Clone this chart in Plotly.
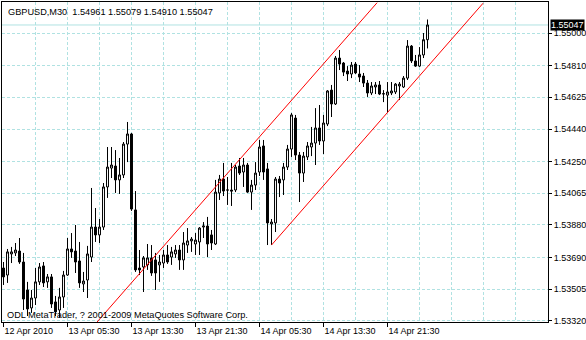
import plotly.graph_objects as go

symbol = "GBPUSD,M30"
copyright_text = "ODL MetaTrader, ? 2001-2009 MetaQuotes Software Corp."

opens = [1.53629, 1.53588, 1.53711, 1.53717, 1.53728, 1.53664, 1.53501, 1.53396, 1.53454, 1.53548,
         1.53641, 1.53548, 1.53577, 1.53431, 1.53384, 1.53460, 1.53588, 1.53740, 1.53728, 1.53670,
         1.53536, 1.53559, 1.53693, 1.53868, 1.53822, 1.53868, 1.54102, 1.54212, 1.54224, 1.54143,
         1.54172, 1.54352, 1.54411, 1.53968, 1.53629, 1.53635, 1.53647, 1.53688, 1.53676, 1.53647,
         1.53658, 1.53705, 1.53693, 1.53711, 1.53734, 1.53676, 1.53763, 1.53787, 1.53769, 1.53781,
         1.53868, 1.53874, 1.53822, 1.53769, 1.54067, 1.54148, 1.54084, 1.54084, 1.54084, 1.54224,
         1.54189, 1.54230, 1.54072, 1.54113, 1.54189, 1.54341, 1.54207, 1.53886, 1.53892, 1.54148,
         1.54143, 1.54218, 1.54323, 1.54504, 1.54288, 1.54183, 1.54277, 1.54335, 1.54358, 1.54446,
         1.54370, 1.54469, 1.54667, 1.54586, 1.54854, 1.54825, 1.54778, 1.54761, 1.54819, 1.54761,
         1.54749, 1.54708, 1.54650, 1.54685, 1.54697, 1.54644, 1.54638, 1.54650, 1.54656, 1.54691,
         1.54685, 1.54737, 1.54924, 1.54837, 1.54807, 1.54872, 1.54961]
highs = [1.53664, 1.53740, 1.53752, 1.53775, 1.53804, 1.53717, 1.53548, 1.53501, 1.53629, 1.53658,
         1.53664, 1.53594, 1.53594, 1.53466, 1.53513, 1.53612, 1.53804, 1.53833, 1.53880, 1.53781,
         1.53606, 1.53758, 1.54096, 1.53979, 1.53915, 1.54125, 1.54335, 1.54335, 1.54317, 1.54271,
         1.54364, 1.54481, 1.54417, 1.54078, 1.53734, 1.53699, 1.53769, 1.53763, 1.53717, 1.53705,
         1.53734, 1.53763, 1.53752, 1.53763, 1.53763, 1.53839, 1.53862, 1.53810, 1.53833, 1.53868,
         1.53897, 1.53927, 1.53851, 1.54143, 1.54172, 1.54242, 1.54160, 1.54242, 1.54230, 1.54271,
         1.54271, 1.54242, 1.54143, 1.54247, 1.54376, 1.54376, 1.54242, 1.53915, 1.54160, 1.54166,
         1.54242, 1.54347, 1.54533, 1.54522, 1.54306, 1.54306, 1.54364, 1.54452, 1.54562, 1.54580,
         1.54522, 1.54667, 1.54697, 1.54866, 1.54901, 1.54831, 1.54807, 1.54831, 1.54831, 1.54813,
         1.54767, 1.54726, 1.54714, 1.54714, 1.54720, 1.54667, 1.54714, 1.54714, 1.54708, 1.54714,
         1.54749, 1.54959, 1.54930, 1.54872, 1.54918, 1.55000, 1.55079]
lows = [1.53530, 1.53542, 1.53658, 1.53699, 1.53653, 1.53384, 1.53349, 1.53367, 1.53413, 1.53530,
        1.53518, 1.53513, 1.53396, 1.53349, 1.53338, 1.53396, 1.53583, 1.53688, 1.53600, 1.53513,
        1.53489, 1.53454, 1.53664, 1.53781, 1.53775, 1.53851, 1.54038, 1.54154, 1.54067, 1.54061,
        1.54154, 1.54247, 1.53962, 1.53606, 1.53588, 1.53489, 1.53618, 1.53583, 1.53501, 1.53548,
        1.53629, 1.53653, 1.53647, 1.53688, 1.53618, 1.53618, 1.53717, 1.53723, 1.53705, 1.53705,
        1.53804, 1.53693, 1.53734, 1.53763, 1.54026, 1.54049, 1.53997, 1.53991, 1.54072, 1.54172,
        1.54102, 1.54067, 1.53968, 1.54084, 1.54166, 1.54143, 1.53763, 1.53763, 1.53839, 1.54043,
        1.54055, 1.54201, 1.54277, 1.54259, 1.54014, 1.54131, 1.54259, 1.54282, 1.54230, 1.54347,
        1.54294, 1.54457, 1.54510, 1.54580, 1.54784, 1.54749, 1.54720, 1.54737, 1.54761, 1.54714,
        1.54685, 1.54627, 1.54638, 1.54644, 1.54638, 1.54597, 1.54539, 1.54638, 1.54644, 1.54609,
        1.54679, 1.54726, 1.54825, 1.54802, 1.54802, 1.54854, 1.54910]
closes = [1.53577, 1.53723, 1.53723, 1.53734, 1.53664, 1.53448, 1.53390, 1.53454, 1.53548, 1.53635,
          1.53542, 1.53577, 1.53419, 1.53373, 1.53460, 1.53588, 1.53740, 1.53723, 1.53664, 1.53542,
          1.53553, 1.53711, 1.53868, 1.53822, 1.53868, 1.54102, 1.54218, 1.54230, 1.54143, 1.54172,
          1.54352, 1.54411, 1.53973, 1.53618, 1.53618, 1.53688, 1.53688, 1.53600, 1.53600, 1.53664,
          1.53705, 1.53664, 1.53723, 1.53734, 1.53676, 1.53775, 1.53787, 1.53798, 1.53792, 1.53862,
          1.53874, 1.53769, 1.53775, 1.54072, 1.54148, 1.54078, 1.54084, 1.54078, 1.54218, 1.54183,
          1.54230, 1.54072, 1.54113, 1.54183, 1.54335, 1.54189, 1.53892, 1.53897, 1.54148, 1.54125,
          1.54218, 1.54323, 1.54522, 1.54288, 1.54183, 1.54282, 1.54341, 1.54358, 1.54446, 1.54370,
          1.54475, 1.54662, 1.54586, 1.54854, 1.54819, 1.54772, 1.54761, 1.54813, 1.54767, 1.54743,
          1.54708, 1.54650, 1.54691, 1.54697, 1.54644, 1.54646, 1.54656, 1.54662, 1.54702, 1.54702,
          1.54737, 1.54924, 1.54837, 1.54807, 1.54872, 1.54961, 1.55047]
bars = list(range(len(closes)))

time_tick_bars = [0, 16, 32, 48, 64, 80, 96]
time_tick_labels = ["12 Apr 2010", "13 Apr 05:30", "13 Apr 13:30", "13 Apr 21:30",
                    "14 Apr 05:30", "14 Apr 13:30", "14 Apr 21:30"]
price_ticks = [1.55000, 1.54810, 1.54625, 1.54440, 1.54250, 1.54065, 1.53880, 1.53690, 1.53505, 1.53320]
price_tick_labels = ["1.55000", "1.54810", "1.54625", "1.54440", "1.54250", "1.54065",
                     "1.53880", "1.53690", "1.53505", "1.53320"]

channel_upper_x = [23.4, 93.4]
channel_upper_y = [1.53314, 1.55177]
channel_lower_x = [67, 119.9]
channel_lower_y = [1.53763, 1.55174]

FONT = "Liberation Sans"
GRID = "#b0e2e2"

fig = go.Figure()
fig.add_trace(go.Candlestick(
    x=bars, open=opens, high=highs, low=lows, close=closes,
    increasing=dict(line=dict(color="black", width=1), fillcolor="white"),
    decreasing=dict(line=dict(color="black", width=1), fillcolor="black"),
    whiskerwidth=0, showlegend=False, hoverinfo="skip",
))
for cx, cy in ((channel_upper_x, channel_upper_y), (channel_lower_x, channel_lower_y)):
    fig.add_trace(go.Scatter(x=cx, y=cy, mode="lines", line=dict(color="#ff0000", width=1),
                             showlegend=False, hoverinfo="skip"))

fig.add_shape(type="line", xref="paper", x0=0, x1=1, yref="y", y0=closes[-1], y1=closes[-1],
              line=dict(color=GRID, width=1), layer="below")

header = f"{symbol}\u00a0\u00a0{opens[-1]:.5f} {highs[-1]:.5f} {lows[-1]:.5f} {closes[-1]:.5f}"
fig.add_annotation(text=header, xref="paper", yref="paper", x=0, y=1, xanchor="left", yanchor="middle",
                   xshift=4, yshift=-10, showarrow=False, font=dict(family=FONT, size=9.2, color="black"))
fig.add_annotation(text=copyright_text, xref="paper", yref="paper", x=0, y=0, xanchor="left",
                   yanchor="middle", xshift=3, yshift=7, showarrow=False,
                   font=dict(family=FONT, size=9.2, color="black"))
fig.add_annotation(text=f"{closes[-1]:.5f}", xref="paper", yref="y", x=1, y=closes[-1], xanchor="left",
                   yanchor="middle", xshift=2, showarrow=False, bgcolor="black", borderpad=0,
                   font=dict(family=FONT, size=9, color="white"))

fig.update_layout(
    width=586, height=340,
    margin=dict(l=2, r=38, t=2, b=18),
    paper_bgcolor="white", plot_bgcolor="white",
    boxgap=0.3, boxgroupgap=0.3,
    font=dict(family=FONT, size=9, color="black"),
    xaxis=dict(
        range=[-0.375, 136.125], rangeslider=dict(visible=False),
        tickmode="array", tickvals=time_tick_bars, ticktext=time_tick_labels,
        ticks="outside", ticklen=4, tickcolor="black", ticklabelposition="outside right",
        tickfont=dict(family=FONT, size=9, color="black"),
        showgrid=False, zeroline=False, showline=True, linecolor="black", linewidth=1, mirror=True,
        automargin=False, fixedrange=True,
        minor=dict(tickvals=list(range(8, 137, 8)), showgrid=True, gridcolor=GRID,
                   griddash="3px,2px", gridwidth=1, ticks=""),
    ),
    yaxis=dict(
        side="right", range=[1.53314, 1.55181],
        tickmode="array", tickvals=price_ticks, ticktext=price_tick_labels,
        ticks="outside", ticklen=3, tickcolor="black",
        tickfont=dict(family=FONT, size=9, color="black"),
        showgrid=True, gridcolor=GRID, griddash="3px,2px", gridwidth=1,
        zeroline=False, showline=True, linecolor="black", linewidth=1, mirror=True,
        automargin=False, fixedrange=True,
    ),
)

fig.write_html("out.html")
